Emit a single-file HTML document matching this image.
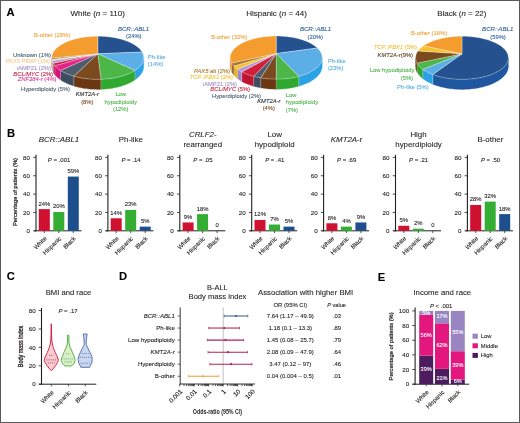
<!DOCTYPE html>
<html><head><meta charset="utf-8"><style>
html,body{margin:0;padding:0;background:#fff;}
svg{display:block;will-change:transform;}
text{font-family:"Liberation Sans", sans-serif;}
</style></head><body>
<svg width="520" height="423" viewBox="0 0 520 423" style='font-family:"Liberation Sans", sans-serif'>
<rect x="0" y="0" width="520" height="423" fill="#ffffff"/>
<polygon points="143.75,57.79 143.72,58.47 143.65,59.14 143.54,59.83 143.38,60.51 143.17,61.20 142.91,61.88 142.60,62.57 142.24,63.25 141.83,63.93 141.38,64.61 140.87,65.29 140.31,65.96 139.70,66.62 139.04,67.28 138.32,67.93 137.56,68.58 136.75,69.21 135.88,69.83 134.97,70.44 134.97,79.86 135.88,79.20 136.75,78.54 137.56,77.86 138.32,77.17 139.04,76.47 139.70,75.76 140.31,75.05 140.87,74.33 141.38,73.60 141.83,72.87 142.24,72.14 142.60,71.41 142.91,70.67 143.17,69.94 143.38,69.20 143.54,68.47 143.65,67.74 143.72,67.01 143.75,66.28" fill="#2ba2e6" stroke="#2ba2e6" stroke-width="0.3"/>
<polygon points="134.97,70.44 134.00,71.05 132.98,71.63 131.92,72.21 130.80,72.77 129.64,73.31 128.44,73.83 127.19,74.34 125.90,74.82 124.56,75.29 123.19,75.73 121.78,76.15 120.33,76.55 118.85,76.93 117.33,77.28 115.79,77.60 114.22,77.90 112.62,78.17 111.00,78.41 109.35,78.63 107.69,78.82 106.02,78.98 104.33,79.11 102.62,79.21 100.92,79.28 100.92,89.34 102.62,89.26 104.33,89.15 106.02,89.01 107.69,88.84 109.35,88.64 111.00,88.41 112.62,88.15 114.22,87.86 115.79,87.54 117.33,87.19 118.85,86.82 120.33,86.41 121.78,85.99 123.19,85.53 124.56,85.06 125.90,84.56 127.19,84.04 128.44,83.49 129.64,82.93 130.80,82.35 131.92,81.75 132.98,81.14 134.00,80.51 134.97,79.86" fill="#30a931" stroke="#30a931" stroke-width="0.3"/>
<polygon points="100.92,79.28 99.24,79.32 97.56,79.33 95.89,79.31 94.21,79.26 92.54,79.19 90.88,79.09 89.23,78.95 87.60,78.80 85.97,78.61 84.37,78.40 82.79,78.16 81.23,77.89 79.69,77.60 78.18,77.28 76.70,76.94 75.25,76.57 73.83,76.19 73.83,86.02 75.25,86.44 76.70,86.83 78.18,87.19 79.69,87.53 81.23,87.85 82.79,88.13 84.37,88.39 85.97,88.62 87.60,88.82 89.23,88.99 90.88,89.13 92.54,89.24 94.21,89.32 95.89,89.37 97.56,89.39 99.24,89.38 100.92,89.34" fill="#6b3712" stroke="#6b3712" stroke-width="0.3"/>
<polygon points="73.83,76.19 72.41,75.76 71.02,75.32 69.68,74.85 68.37,74.36 67.11,73.85 65.90,73.33 64.73,72.78 63.61,72.22 62.53,71.64 61.51,71.05 60.53,70.44 60.53,79.86 61.51,80.51 62.53,81.15 63.61,81.77 64.73,82.37 65.90,82.95 67.11,83.52 68.37,84.06 69.68,84.59 71.02,85.09 72.41,85.57 73.83,86.02" fill="#3e4c60" stroke="#3e4c60" stroke-width="0.3"/>
<polygon points="60.53,70.44 59.56,69.80 58.65,69.13 57.80,68.46 57.00,67.78 56.26,67.09 55.58,66.38 54.95,65.68 54.95,74.74 55.58,75.50 56.26,76.26 57.00,77.00 57.80,77.73 58.65,78.45 59.56,79.16 60.53,79.86" fill="#d9127f" stroke="#d9127f" stroke-width="0.3"/>
<polygon points="54.95,65.68 54.45,65.05 53.99,64.42 53.58,63.79 53.21,63.16 53.21,72.04 53.58,72.72 53.99,73.40 54.45,74.07 54.95,74.74" fill="#be1430" stroke="#be1430" stroke-width="0.3"/>
<polygon points="53.21,63.16 52.88,62.53 52.60,61.89 52.35,61.25 52.15,60.62 52.15,69.32 52.35,70.00 52.60,70.68 52.88,71.36 53.21,72.04" fill="#a085c6" stroke="#a085c6" stroke-width="0.3"/>
<polygon points="52.15,60.62 52.07,60.30 51.99,59.98 51.93,59.67 51.88,59.35 51.88,67.95 51.93,68.29 51.99,68.63 52.07,68.97 52.15,69.32" fill="#eebf70" stroke="#eebf70" stroke-width="0.3"/>
<polygon points="51.88,59.35 51.83,59.03 51.80,58.72 51.77,58.40 51.76,58.09 51.76,66.60 51.77,66.94 51.80,67.28 51.83,67.61 51.88,67.95" fill="#5a5d40" stroke="#5a5d40" stroke-width="0.3"/>
<polygon points="51.76,58.09 51.76,58.01 51.76,57.94 51.75,57.86 51.75,57.79 51.75,66.28 51.75,66.36 51.76,66.44 51.76,66.52 51.76,66.60" fill="#e88c20" stroke="#e88c20" stroke-width="0.3"/>
<line x1="134.97" y1="70.44" x2="134.97" y2="79.86" stroke="#ffffff" stroke-opacity="0.55" stroke-width="0.5"/>
<line x1="100.92" y1="79.28" x2="100.92" y2="89.34" stroke="#ffffff" stroke-opacity="0.55" stroke-width="0.5"/>
<line x1="73.83" y1="76.19" x2="73.83" y2="86.02" stroke="#ffffff" stroke-opacity="0.55" stroke-width="0.5"/>
<line x1="60.53" y1="70.44" x2="60.53" y2="79.86" stroke="#ffffff" stroke-opacity="0.55" stroke-width="0.5"/>
<line x1="54.95" y1="65.68" x2="54.95" y2="74.74" stroke="#ffffff" stroke-opacity="0.55" stroke-width="0.5"/>
<line x1="53.21" y1="63.16" x2="53.21" y2="72.04" stroke="#ffffff" stroke-opacity="0.55" stroke-width="0.5"/>
<line x1="52.15" y1="60.62" x2="52.15" y2="69.32" stroke="#ffffff" stroke-opacity="0.55" stroke-width="0.5"/>
<line x1="51.88" y1="59.35" x2="51.88" y2="67.95" stroke="#ffffff" stroke-opacity="0.55" stroke-width="0.5"/>
<line x1="51.76" y1="58.09" x2="51.76" y2="66.60" stroke="#ffffff" stroke-opacity="0.55" stroke-width="0.5"/>
<polygon points="97.75,53.80 97.75,36.25 98.91,36.26 100.06,36.28 101.22,36.31 102.37,36.36 103.52,36.42 104.66,36.49 105.81,36.58 106.95,36.69 108.08,36.80 109.21,36.93 110.34,37.07 111.46,37.23 112.57,37.40 113.67,37.58 114.77,37.78 115.85,37.99 116.93,38.21 118.00,38.45 119.05,38.70 120.10,38.96 121.13,39.24 122.15,39.53 123.16,39.84 124.15,40.15 125.13,40.48 126.09,40.83 127.04,41.18 127.97,41.55 128.88,41.93 129.77,42.33 130.65,42.73 131.50,43.15 132.33,43.59 133.14,44.03 133.93,44.49 134.69,44.96 135.43,45.44 136.15,45.93 136.83,46.43 137.49,46.95 138.13,47.47 138.73,48.01 139.31,48.56 139.85,49.12 140.36,49.68 140.84,50.26 141.29,50.85 141.70,51.44 142.08,52.05" fill="#25518f" stroke="#ffffff" stroke-opacity="0.5" stroke-width="0.6" stroke-linejoin="round"/>
<polygon points="97.75,53.80 142.08,52.05 142.43,52.67 142.73,53.29 143.00,53.93 143.23,54.57 143.42,55.22 143.56,55.87 143.67,56.53 143.73,57.20 143.75,57.86 143.72,58.54 143.64,59.21 143.53,59.89 143.36,60.57 143.15,61.25 142.89,61.94 142.58,62.62 142.22,63.30 141.81,63.97 141.35,64.65 140.84,65.32 140.28,65.99 139.67,66.65 139.02,67.30 138.31,67.95 137.55,68.59 136.74,69.22 135.88,69.84 134.97,70.44" fill="#5caee6" stroke="#ffffff" stroke-opacity="0.5" stroke-width="0.6" stroke-linejoin="round"/>
<polygon points="97.75,53.80 134.97,70.44 134.00,71.05 132.98,71.63 131.92,72.21 130.80,72.77 129.64,73.31 128.44,73.83 127.19,74.34 125.90,74.82 124.56,75.29 123.19,75.73 121.78,76.15 120.33,76.55 118.85,76.93 117.33,77.28 115.79,77.60 114.22,77.90 112.62,78.17 111.00,78.41 109.35,78.63 107.69,78.82 106.02,78.98 104.33,79.11 102.62,79.21 100.92,79.28" fill="#4cb649" stroke="#ffffff" stroke-opacity="0.5" stroke-width="0.6" stroke-linejoin="round"/>
<polygon points="97.75,53.80 100.92,79.28 99.24,79.32 97.56,79.33 95.89,79.31 94.21,79.26 92.54,79.19 90.88,79.09 89.23,78.95 87.60,78.80 85.97,78.61 84.37,78.40 82.79,78.16 81.23,77.89 79.69,77.60 78.18,77.28 76.70,76.94 75.25,76.57 73.83,76.19" fill="#7b4a1f" stroke="#ffffff" stroke-opacity="0.5" stroke-width="0.6" stroke-linejoin="round"/>
<polygon points="97.75,53.80 73.83,76.19 72.41,75.76 71.02,75.32 69.68,74.85 68.37,74.36 67.11,73.85 65.90,73.33 64.73,72.78 63.61,72.22 62.53,71.64 61.51,71.05 60.53,70.44" fill="#4e5c70" stroke="#ffffff" stroke-opacity="0.5" stroke-width="0.6" stroke-linejoin="round"/>
<polygon points="97.75,53.80 60.53,70.44 59.56,69.80 58.65,69.13 57.80,68.46 57.00,67.78 56.26,67.09 55.58,66.38 54.95,65.68" fill="#e5218b" stroke="#ffffff" stroke-opacity="0.5" stroke-width="0.6" stroke-linejoin="round"/>
<polygon points="97.75,53.80 54.95,65.68 54.29,64.84 53.71,64.00 53.21,63.16" fill="#d21f3c" stroke="#ffffff" stroke-opacity="0.5" stroke-width="0.6" stroke-linejoin="round"/>
<polygon points="97.75,53.80 53.21,63.16 52.78,62.31 52.43,61.47 52.15,60.62" fill="#b69ad6" stroke="#ffffff" stroke-opacity="0.5" stroke-width="0.6" stroke-linejoin="round"/>
<polygon points="97.75,53.80 52.15,60.62 52.04,60.19 51.95,59.77 51.88,59.35" fill="#f6d08c" stroke="#ffffff" stroke-opacity="0.5" stroke-width="0.6" stroke-linejoin="round"/>
<polygon points="97.75,53.80 51.88,59.35 51.82,58.93 51.78,58.51 51.76,58.09" fill="#6b6e4e" stroke="#ffffff" stroke-opacity="0.5" stroke-width="0.6" stroke-linejoin="round"/>
<polygon points="97.75,53.80 51.76,58.09 51.76,57.43 51.81,56.78 51.89,56.13 52.02,55.48 52.19,54.85 52.39,54.21 52.64,53.59 52.92,52.97 53.24,52.36 53.59,51.76 53.99,51.16 54.41,50.58 54.87,50.00 55.36,49.43 55.88,48.87 56.43,48.33 57.01,47.79 57.62,47.26 58.26,46.75 58.93,46.24 59.62,45.75 60.33,45.26 61.07,44.79 61.84,44.33 62.63,43.88 63.44,43.45 64.27,43.02 65.12,42.61 65.99,42.21 66.88,41.82 67.78,41.45 68.71,41.09 69.65,40.74 70.61,40.40 71.58,40.08 72.56,39.77 73.56,39.47 74.58,39.18 75.60,38.91 76.64,38.65 77.69,38.41 78.75,38.17 79.82,37.95 80.89,37.75 81.98,37.56 83.07,37.38 84.17,37.21 85.28,37.06 86.40,36.92 87.52,36.79 88.64,36.68 89.77,36.58 90.90,36.49 92.04,36.42 93.18,36.36 94.32,36.31 95.46,36.28 96.61,36.26 97.75,36.25" fill="#f49c2e" stroke="#ffffff" stroke-opacity="0.5" stroke-width="0.6" stroke-linejoin="round"/>
<polygon points="322.20,57.59 322.17,58.27 322.10,58.95 321.99,59.63 321.83,60.32 321.61,61.00 321.35,61.69 321.04,62.38 320.69,63.06 320.28,63.75 319.82,64.43 319.31,65.10 318.74,65.78 318.13,66.44 317.47,67.10 316.75,67.75 315.98,68.40 315.17,69.03 314.30,69.66 313.38,70.27 312.42,70.87 311.40,71.45 310.34,72.02 309.22,72.58 308.07,73.12 306.86,73.64 305.62,74.15 304.33,74.63 303.00,75.09 301.63,75.54 300.22,75.96 298.78,76.35 298.78,86.21 300.22,85.79 301.63,85.34 303.00,84.86 304.33,84.36 305.62,83.85 306.86,83.31 308.07,82.75 309.22,82.17 310.34,81.57 311.40,80.96 312.42,80.33 313.38,79.68 314.30,79.03 315.17,78.36 315.98,77.68 316.75,76.99 317.47,76.29 318.13,75.58 318.74,74.86 319.31,74.14 319.82,73.42 320.28,72.69 320.69,71.95 321.04,71.22 321.35,70.48 321.61,69.74 321.83,69.01 321.99,68.27 322.10,67.54 322.17,66.81 322.20,66.08" fill="#2ba2e6" stroke="#2ba2e6" stroke-width="0.3"/>
<polygon points="298.78,76.35 297.31,76.72 295.82,77.07 294.29,77.39 292.74,77.69 291.16,77.96 289.55,78.20 287.93,78.42 286.29,78.60 284.63,78.76 282.96,78.89 281.28,79.00 279.59,79.07 277.90,79.11 276.20,79.13 276.20,89.19 277.90,89.18 279.59,89.13 281.28,89.05 282.96,88.94 284.63,88.80 286.29,88.63 287.93,88.43 289.55,88.20 291.16,87.93 292.74,87.65 294.29,87.33 295.82,86.98 297.31,86.61 298.78,86.21" fill="#30a931" stroke="#30a931" stroke-width="0.3"/>
<polygon points="276.20,79.13 274.44,79.11 272.68,79.06 270.93,78.99 269.19,78.88 267.46,78.73 265.74,78.56 264.05,78.36 262.37,78.13 260.71,77.87 260.71,87.84 262.37,88.12 264.05,88.37 265.74,88.59 267.46,88.77 269.19,88.92 270.93,89.04 272.68,89.12 274.44,89.17 276.20,89.19" fill="#6b3712" stroke="#6b3712" stroke-width="0.3"/>
<polygon points="260.71,77.87 258.88,77.54 257.09,77.18 255.33,76.78 253.62,76.35 253.62,86.21 255.33,86.68 257.09,87.10 258.88,87.49 260.71,87.84" fill="#3e4c60" stroke="#3e4c60" stroke-width="0.3"/>
<polygon points="253.62,76.35 252.14,75.94 250.69,75.51 249.28,75.05 247.92,74.57 246.60,74.07 245.32,73.55 244.10,73.01 242.91,72.45 241.78,71.88 241.78,81.41 242.91,82.03 244.10,82.63 245.32,83.21 246.60,83.77 247.92,84.31 249.28,84.82 250.69,85.31 252.14,85.78 253.62,86.21" fill="#be1430" stroke="#be1430" stroke-width="0.3"/>
<polygon points="241.78,71.88 240.57,71.21 239.42,70.52 238.34,69.82 237.33,69.10 237.33,78.43 238.34,79.20 239.42,79.96 240.57,80.70 241.78,81.41" fill="#a085c6" stroke="#a085c6" stroke-width="0.3"/>
<polygon points="237.33,69.10 236.38,68.37 235.50,67.62 234.69,66.86 233.94,66.10 233.94,75.21 234.69,76.03 235.50,76.84 236.38,77.65 237.33,78.43" fill="#eab21c" stroke="#eab21c" stroke-width="0.3"/>
<polygon points="233.94,66.10 233.27,65.32 232.67,64.54 232.13,63.75 231.66,62.96 231.66,71.84 232.13,72.69 232.67,73.54 233.27,74.38 233.94,75.21" fill="#956424" stroke="#956424" stroke-width="0.3"/>
<polygon points="231.66,62.96 231.31,62.29 231.01,61.61 230.76,60.94 230.56,60.27 230.40,59.59 230.29,58.92 230.23,58.25 230.20,57.59 230.20,66.08 230.23,66.79 230.29,67.51 230.40,68.23 230.56,68.95 230.76,69.68 231.01,70.40 231.31,71.12 231.66,71.84" fill="#e88c20" stroke="#e88c20" stroke-width="0.3"/>
<line x1="298.78" y1="76.35" x2="298.78" y2="86.21" stroke="#ffffff" stroke-opacity="0.55" stroke-width="0.5"/>
<line x1="276.20" y1="79.13" x2="276.20" y2="89.19" stroke="#ffffff" stroke-opacity="0.55" stroke-width="0.5"/>
<line x1="260.71" y1="77.87" x2="260.71" y2="87.84" stroke="#ffffff" stroke-opacity="0.55" stroke-width="0.5"/>
<line x1="253.62" y1="76.35" x2="253.62" y2="86.21" stroke="#ffffff" stroke-opacity="0.55" stroke-width="0.5"/>
<line x1="241.78" y1="71.88" x2="241.78" y2="81.41" stroke="#ffffff" stroke-opacity="0.55" stroke-width="0.5"/>
<line x1="237.33" y1="69.10" x2="237.33" y2="78.43" stroke="#ffffff" stroke-opacity="0.55" stroke-width="0.5"/>
<line x1="233.94" y1="66.10" x2="233.94" y2="75.21" stroke="#ffffff" stroke-opacity="0.55" stroke-width="0.5"/>
<line x1="231.66" y1="62.96" x2="231.66" y2="71.84" stroke="#ffffff" stroke-opacity="0.55" stroke-width="0.5"/>
<polygon points="276.20,53.60 276.20,36.05 277.37,36.06 278.53,36.08 279.70,36.11 280.86,36.16 282.02,36.22 283.18,36.30 284.34,36.39 285.49,36.49 286.63,36.61 287.77,36.74 288.91,36.89 290.04,37.05 291.16,37.22 292.27,37.41 293.37,37.61 294.47,37.82 295.56,38.05 296.63,38.29 297.70,38.55 298.75,38.82 299.79,39.10 300.82,39.39 301.83,39.70 302.83,40.03 303.81,40.36 304.78,40.71 305.73,41.08 306.67,41.45 307.58,41.84 308.48,42.24 309.35,42.66 310.21,43.09 311.04,43.53 311.85,43.98 312.64,44.44 313.40,44.92 314.14,45.41 314.85,45.91 315.53,46.42 316.19,46.95 316.82,47.48 317.42,48.03" fill="#25518f" stroke="#ffffff" stroke-opacity="0.5" stroke-width="0.6" stroke-linejoin="round"/>
<polygon points="276.20,53.60 317.42,48.03 317.98,48.58 318.52,49.15 319.02,49.72 319.48,50.30 319.92,50.89 320.32,51.50 320.68,52.10 321.01,52.72 321.30,53.35 321.55,53.98 321.76,54.62 321.93,55.27 322.06,55.92 322.14,56.57 322.19,57.24 322.19,57.90 322.15,58.57 322.06,59.24 321.93,59.92 321.75,60.59 321.52,61.27 321.24,61.95 320.92,62.62 320.55,63.30 320.13,63.97 319.66,64.64 319.14,65.30 318.57,65.97 317.96,66.62 317.29,67.27 316.57,67.91 315.81,68.54 314.99,69.16 314.13,69.77 313.21,70.38 312.25,70.96 311.24,71.54 310.19,72.10 309.09,72.65 307.94,73.18 306.75,73.69 305.52,74.18 304.25,74.66 302.94,75.11 301.59,75.55 300.20,75.96 298.78,76.35" fill="#5caee6" stroke="#ffffff" stroke-opacity="0.5" stroke-width="0.6" stroke-linejoin="round"/>
<polygon points="276.20,53.60 298.78,76.35 297.31,76.72 295.82,77.07 294.29,77.39 292.74,77.69 291.16,77.96 289.55,78.20 287.93,78.42 286.29,78.60 284.63,78.76 282.96,78.89 281.28,79.00 279.59,79.07 277.90,79.11 276.20,79.13" fill="#4cb649" stroke="#ffffff" stroke-opacity="0.5" stroke-width="0.6" stroke-linejoin="round"/>
<polygon points="276.20,53.60 276.20,79.13 274.44,79.11 272.68,79.06 270.93,78.99 269.19,78.88 267.46,78.73 265.74,78.56 264.05,78.36 262.37,78.13 260.71,77.87" fill="#7b4a1f" stroke="#ffffff" stroke-opacity="0.5" stroke-width="0.6" stroke-linejoin="round"/>
<polygon points="276.20,53.60 260.71,77.87 258.88,77.54 257.09,77.18 255.33,76.78 253.62,76.35" fill="#4e5c70" stroke="#ffffff" stroke-opacity="0.5" stroke-width="0.6" stroke-linejoin="round"/>
<polygon points="276.20,53.60 253.62,76.35 252.14,75.94 250.69,75.51 249.28,75.05 247.92,74.57 246.60,74.07 245.32,73.55 244.10,73.01 242.91,72.45 241.78,71.88" fill="#d21f3c" stroke="#ffffff" stroke-opacity="0.5" stroke-width="0.6" stroke-linejoin="round"/>
<polygon points="276.20,53.60 241.78,71.88 240.57,71.21 239.42,70.52 238.34,69.82 237.33,69.10" fill="#b69ad6" stroke="#ffffff" stroke-opacity="0.5" stroke-width="0.6" stroke-linejoin="round"/>
<polygon points="276.20,53.60 237.33,69.10 236.38,68.37 235.50,67.62 234.69,66.86 233.94,66.10" fill="#f5c22e" stroke="#ffffff" stroke-opacity="0.5" stroke-width="0.6" stroke-linejoin="round"/>
<polygon points="276.20,53.60 233.94,66.10 233.27,65.32 232.67,64.54 232.13,63.75 231.66,62.96" fill="#a9772e" stroke="#ffffff" stroke-opacity="0.5" stroke-width="0.6" stroke-linejoin="round"/>
<polygon points="276.20,53.60 231.66,62.96 231.31,62.29 231.01,61.61 230.76,60.94 230.56,60.26 230.40,59.59 230.29,58.92 230.23,58.25 230.20,57.58 230.23,56.92 230.29,56.27 230.40,55.61 230.55,54.97 230.74,54.32 230.96,53.69 231.23,53.06 231.54,52.44 231.88,51.83 232.26,51.23 232.67,50.63 233.12,50.05 233.60,49.47 234.11,48.90 234.66,48.34 235.23,47.80 235.84,47.26 236.47,46.74 237.13,46.22 237.82,45.72 238.53,45.23 239.27,44.75 240.04,44.28 240.83,43.82 241.64,43.38 242.47,42.95 243.32,42.53 244.19,42.12 245.09,41.73 246.00,41.34 246.93,40.98 247.87,40.62 248.83,40.28 249.81,39.95 250.80,39.63 251.81,39.33 252.83,39.04 253.86,38.76 254.91,38.50 255.96,38.25 257.03,38.01 258.11,37.79 259.19,37.58 260.29,37.38 261.39,37.20 262.50,37.03 263.62,36.87 264.74,36.73 265.87,36.60 267.01,36.48 268.15,36.38 269.29,36.29 270.44,36.22 271.59,36.16 272.74,36.11 273.89,36.08 275.04,36.06 276.20,36.05" fill="#f49c2e" stroke="#ffffff" stroke-opacity="0.5" stroke-width="0.6" stroke-linejoin="round"/>
<polygon points="508.40,57.79 508.38,58.45 508.31,59.11 508.20,59.78 508.05,60.45 507.84,61.12 507.59,61.79 507.30,62.46 506.95,63.13 506.56,63.80 506.12,64.46 505.63,65.12 505.09,65.78 504.50,66.43 503.87,67.08 503.18,67.72 502.45,68.35 501.66,68.97 500.83,69.58 499.95,70.18 499.02,70.78 498.04,71.35 497.02,71.92 495.95,72.47 494.84,73.01 493.68,73.52 492.48,74.03 491.24,74.51 489.96,74.98 488.64,75.42 487.28,75.85 485.89,76.25 484.46,76.64 483.00,77.00 481.51,77.33 479.99,77.64 478.44,77.93 476.87,78.19 475.28,78.43 473.67,78.64 472.04,78.82 470.39,78.97 468.73,79.10 467.07,79.20 465.39,79.27 463.71,79.31 462.03,79.33 460.34,79.31 458.66,79.27 456.99,79.20 455.32,79.10 453.66,78.98 452.01,78.82 450.38,78.64 448.77,78.43 447.18,78.20 445.61,77.94 444.06,77.65 442.54,77.34 441.05,77.01 439.59,76.65 438.16,76.27 436.76,75.86 435.40,75.44 434.08,74.99 432.80,74.53 432.80,84.24 434.08,84.74 435.40,85.22 436.76,85.67 438.16,86.11 439.59,86.52 441.05,86.90 442.54,87.26 444.06,87.59 445.61,87.90 447.18,88.18 448.77,88.43 450.38,88.66 452.01,88.85 453.66,89.01 455.32,89.15 456.99,89.26 458.66,89.33 460.34,89.38 462.03,89.39 463.71,89.38 465.39,89.33 467.07,89.25 468.73,89.15 470.39,89.01 472.04,88.84 473.67,88.65 475.28,88.42 476.87,88.17 478.44,87.89 479.99,87.58 481.51,87.25 483.00,86.89 484.46,86.50 485.89,86.09 487.28,85.66 488.64,85.20 489.96,84.72 491.24,84.22 492.48,83.70 493.68,83.16 494.84,82.61 495.95,82.03 497.02,81.44 498.04,80.84 499.02,80.21 499.95,79.58 500.83,78.93 501.66,78.28 502.45,77.61 503.18,76.93 503.87,76.25 504.50,75.55 505.09,74.85 505.63,74.15 506.12,73.44 506.56,72.73 506.95,72.01 507.30,71.29 507.59,70.57 507.84,69.85 508.05,69.14 508.20,68.42 508.31,67.70 508.38,66.99 508.40,66.28" fill="#1f56a0" stroke="#1f56a0" stroke-width="0.3"/>
<polygon points="432.80,74.53 431.49,74.02 430.22,73.49 429.01,72.94 427.84,72.37 426.73,71.78 425.66,71.18 424.65,70.57 423.69,69.94 422.78,69.30 422.78,78.63 423.69,79.32 424.65,79.99 425.66,80.65 426.73,81.30 427.84,81.92 429.01,82.53 430.22,83.12 431.49,83.69 432.80,84.24" fill="#2ba2e6" stroke="#2ba2e6" stroke-width="0.3"/>
<polygon points="422.78,69.30 421.93,68.65 421.13,67.99 420.39,67.32 419.70,66.64 419.06,65.95 418.48,65.26 417.95,64.56 417.48,63.86 417.06,63.16 417.06,72.04 417.48,72.80 417.95,73.55 418.48,74.30 419.06,75.04 419.70,75.78 420.39,76.50 421.13,77.22 421.93,77.93 422.78,78.63" fill="#30a931" stroke="#30a931" stroke-width="0.3"/>
<polygon points="417.06,63.16 416.72,62.49 416.41,61.81 416.16,61.14 415.96,60.47 415.80,59.79 415.69,59.12 415.62,58.45 415.60,57.79 415.60,66.28 415.62,66.99 415.69,67.71 415.80,68.43 415.96,69.15 416.16,69.88 416.41,70.60 416.72,71.32 417.06,72.04" fill="#6b3712" stroke="#6b3712" stroke-width="0.3"/>
<line x1="432.80" y1="74.53" x2="432.80" y2="84.24" stroke="#ffffff" stroke-opacity="0.55" stroke-width="0.5"/>
<line x1="422.78" y1="69.30" x2="422.78" y2="78.63" stroke="#ffffff" stroke-opacity="0.55" stroke-width="0.5"/>
<line x1="417.06" y1="63.16" x2="417.06" y2="72.04" stroke="#ffffff" stroke-opacity="0.55" stroke-width="0.5"/>
<polygon points="462.00,53.80 462.00,36.25 463.16,36.26 464.32,36.28 465.48,36.31 466.64,36.36 467.80,36.42 468.95,36.49 470.10,36.58 471.24,36.68 472.38,36.80 473.52,36.92 474.65,37.07 475.77,37.22 476.89,37.39 478.00,37.57 479.10,37.77 480.19,37.97 481.28,38.20 482.35,38.43 483.41,38.68 484.46,38.94 485.50,39.22 486.53,39.50 487.54,39.81 488.54,40.12 489.52,40.45 490.49,40.79 491.44,41.14 492.38,41.51 493.30,41.89 494.20,42.28 495.08,42.68 495.94,43.10 496.77,43.53 497.59,43.97 498.39,44.42 499.16,44.89 499.90,45.36 500.63,45.85 501.32,46.35 501.99,46.86 502.63,47.39 503.24,47.92 503.83,48.46 504.38,49.02 504.90,49.58 505.39,50.15 505.84,50.73 506.26,51.33 506.65,51.93 507.00,52.54 507.31,53.15 507.59,53.78 507.83,54.41 508.02,55.04 508.18,55.69 508.30,56.34 508.37,56.99 508.40,57.65 508.39,58.31 508.33,58.98 508.23,59.65 508.08,60.32 507.89,60.99 507.65,61.66 507.36,62.33 507.02,63.01 506.64,63.68 506.20,64.34 505.72,65.01 505.19,65.67 504.61,66.32 503.98,66.97 503.29,67.61 502.57,68.25 501.79,68.87 500.96,69.49 500.08,70.10 499.16,70.69 498.19,71.27 497.17,71.84 496.10,72.40 494.99,72.94 493.84,73.46 492.64,73.97 491.40,74.45 490.12,74.92 488.80,75.37 487.44,75.80 486.04,76.21 484.61,76.60 483.15,76.96 481.66,77.30 480.14,77.61 478.59,77.90 477.02,78.17 475.42,78.41 473.80,78.62 472.17,78.80 470.52,78.96 468.86,79.09 467.19,79.19 465.50,79.27 463.82,79.31 462.13,79.33 460.44,79.32 458.75,79.27 457.07,79.21 455.40,79.11 453.73,78.98 452.08,78.83 450.45,78.65 448.83,78.44 447.23,78.21 445.65,77.95 444.10,77.66 442.57,77.35 441.08,77.01 439.61,76.65 438.17,76.27 436.77,75.87 435.41,75.44 434.08,74.99 432.80,74.53" fill="#25518f" stroke="#ffffff" stroke-opacity="0.5" stroke-width="0.6" stroke-linejoin="round"/>
<polygon points="462.00,53.80 432.80,74.53 431.49,74.02 430.22,73.49 429.01,72.94 427.84,72.37 426.73,71.78 425.66,71.18 424.65,70.57 423.69,69.94 422.78,69.30" fill="#5caee6" stroke="#ffffff" stroke-opacity="0.5" stroke-width="0.6" stroke-linejoin="round"/>
<polygon points="462.00,53.80 422.78,69.30 421.93,68.65 421.13,67.99 420.39,67.32 419.70,66.64 419.06,65.95 418.48,65.26 417.95,64.56 417.48,63.86 417.06,63.16" fill="#4cb649" stroke="#ffffff" stroke-opacity="0.5" stroke-width="0.6" stroke-linejoin="round"/>
<polygon points="462.00,53.80 417.06,63.16 416.72,62.49 416.42,61.82 416.17,61.15 415.96,60.48 415.80,59.82 415.69,59.15 415.62,58.49 415.60,57.82 415.62,57.17 415.68,56.51 415.78,55.87 415.93,55.22 416.11,54.59 416.34,53.96 416.60,53.33 416.90,52.72 417.24,52.11 417.61,51.51 418.02,50.92" fill="#7b4a1f" stroke="#ffffff" stroke-opacity="0.5" stroke-width="0.6" stroke-linejoin="round"/>
<polygon points="462.00,53.80 418.02,50.92 418.49,50.30 419.00,49.70 419.54,49.10 420.12,48.52 420.73,47.95 421.37,47.39 422.04,46.84 422.75,46.30 423.48,45.78" fill="#f5c22e" stroke="#ffffff" stroke-opacity="0.5" stroke-width="0.6" stroke-linejoin="round"/>
<polygon points="462.00,53.80 423.48,45.78 424.21,45.29 424.95,44.82 425.73,44.36 426.52,43.91 427.34,43.47 428.17,43.04 429.03,42.63 429.91,42.23 430.81,41.84 431.73,41.47 432.66,41.10 433.61,40.75 434.58,40.41 435.56,40.09 436.55,39.78 437.56,39.48 438.59,39.19 439.62,38.92 440.67,38.66 441.73,38.41 442.80,38.18 443.88,37.96 444.97,37.75 446.06,37.56 447.17,37.38 448.28,37.21 449.40,37.06 450.53,36.92 451.66,36.79 452.79,36.68 453.94,36.58 455.08,36.49 456.23,36.42 457.38,36.36 458.53,36.31 459.69,36.28 460.84,36.26 462.00,36.25" fill="#f49c2e" stroke="#ffffff" stroke-opacity="0.5" stroke-width="0.6" stroke-linejoin="round"/>
<text x="70.50" y="15.80" font-size="8" fill="#231f20" stroke="#231f20" stroke-width="0.1" text-anchor="start" >White (<tspan font-style="italic">n</tspan> = 110)</text>
<text x="246.20" y="15.60" font-size="8" fill="#231f20" stroke="#231f20" stroke-width="0.1" text-anchor="start" >Hispanic (<tspan font-style="italic">n</tspan> = 44)</text>
<text x="437.20" y="15.60" font-size="7.95" fill="#231f20" stroke="#231f20" stroke-width="0.1" text-anchor="start" >Black (<tspan font-style="italic">n</tspan> = 22)</text>
<text x="133.50" y="31.20" font-size="6.1" fill="#2f5e9e" stroke="#2f5e9e" stroke-width="0.1" text-anchor="middle" font-style="italic" >BCR::ABL1</text>
<text x="133.80" y="38.00" font-size="5.8" fill="#2f5e9e" stroke="#2f5e9e" stroke-width="0.1" text-anchor="middle" >(24%)</text>
<text x="34.00" y="37.10" font-size="5.8" fill="#f2a33a" stroke="#f2a33a" stroke-width="0.1" text-anchor="start" >B-other (28%)</text>
<text x="147.80" y="58.80" font-size="5.8" fill="#5aaee4" stroke="#5aaee4" stroke-width="0.1" text-anchor="start" >Ph-like</text>
<text x="147.80" y="66.00" font-size="5.8" fill="#5aaee4" stroke="#5aaee4" stroke-width="0.1" text-anchor="start" >(14%)</text>
<text x="51.00" y="57.10" font-size="5.8" fill="#3f5b6d" stroke="#3f5b6d" stroke-width="0.1" text-anchor="end" >Unknown (1%)</text>
<text x="50.00" y="63.20" font-size="5.8" fill="#f7c98a" stroke="#f7c98a" stroke-width="0.1" text-anchor="end" >PAX5 P80R (1%)</text>
<text x="51.00" y="69.60" font-size="5.8" fill="#a58cc8" stroke="#a58cc8" stroke-width="0.1" text-anchor="end" >iAMP21 (2%)</text>
<text x="53.00" y="75.60" font-size="5.8" fill="#c81d3a" stroke="#c81d3a" stroke-width="0.1" text-anchor="end" ><tspan font-style="italic">BCL/MYC</tspan> (2%)</text>
<text x="56.50" y="81.40" font-size="5.8" fill="#e0358f" stroke="#e0358f" stroke-width="0.1" text-anchor="end" ><tspan font-style="italic">ZNF384-r</tspan> (4%)</text>
<text x="70.00" y="91.30" font-size="5.8" fill="#4e5c70" stroke="#4e5c70" stroke-width="0.1" text-anchor="end" >Hyperdiploidy (5%)</text>
<text x="87.30" y="95.70" font-size="5.8" fill="#2b2b2b" stroke="#2b2b2b" stroke-width="0.1" text-anchor="middle" font-style="italic" >KMT2A-r</text>
<text x="87.30" y="103.50" font-size="5.8" fill="#7d4a1f" stroke="#7d4a1f" stroke-width="0.1" text-anchor="middle" >(8%)</text>
<text x="120.70" y="96.00" font-size="5.8" fill="#4db648" stroke="#4db648" stroke-width="0.1" text-anchor="middle" >Low</text>
<text x="120.70" y="103.80" font-size="5.8" fill="#4db648" stroke="#4db648" stroke-width="0.1" text-anchor="middle" >hypodiploidy</text>
<text x="120.70" y="111.00" font-size="5.8" fill="#4db648" stroke="#4db648" stroke-width="0.1" text-anchor="middle" >(12%)</text>
<text x="315.50" y="31.20" font-size="6.1" fill="#2f5e9e" stroke="#2f5e9e" stroke-width="0.1" text-anchor="middle" font-style="italic" >BCR::ABL1</text>
<text x="315.30" y="38.70" font-size="5.8" fill="#2f5e9e" stroke="#2f5e9e" stroke-width="0.1" text-anchor="middle" >(20%)</text>
<text x="211.20" y="38.70" font-size="5.8" fill="#f2a33a" stroke="#f2a33a" stroke-width="0.1" text-anchor="start" >B-other (32%)</text>
<text x="327.90" y="62.50" font-size="5.8" fill="#5aaee4" stroke="#5aaee4" stroke-width="0.1" text-anchor="start" >Ph-like</text>
<text x="327.90" y="70.20" font-size="5.8" fill="#5aaee4" stroke="#5aaee4" stroke-width="0.1" text-anchor="start" >(23%)</text>
<text x="230.00" y="72.70" font-size="5.8" fill="#a9772e" stroke="#a9772e" stroke-width="0.1" text-anchor="end" ><tspan font-style="italic">PAX5</tspan> alt (2%)</text>
<text x="233.00" y="78.80" font-size="5.8" fill="#f5c22e" stroke="#f5c22e" stroke-width="0.1" text-anchor="end" ><tspan font-style="italic">TCF::PBX1</tspan> (2%)</text>
<text x="237.00" y="85.50" font-size="5.8" fill="#a58cc8" stroke="#a58cc8" stroke-width="0.1" text-anchor="end" >iAMP21 (2%)</text>
<text x="250.00" y="91.20" font-size="5.8" fill="#c81d3a" stroke="#c81d3a" stroke-width="0.1" text-anchor="end" ><tspan font-style="italic">BCL/MYC</tspan> (5%)</text>
<text x="261.00" y="97.80" font-size="5.8" fill="#4e5c70" stroke="#4e5c70" stroke-width="0.1" text-anchor="end" >Hyperdiploidy (2%)</text>
<text x="268.80" y="102.70" font-size="5.8" fill="#2b2b2b" stroke="#2b2b2b" stroke-width="0.1" text-anchor="middle" font-style="italic" >KMT2A-r</text>
<text x="268.80" y="110.20" font-size="5.8" fill="#7d4a1f" stroke="#7d4a1f" stroke-width="0.1" text-anchor="middle" >(4%)</text>
<text x="285.80" y="97.00" font-size="5.8" fill="#4db648" stroke="#4db648" stroke-width="0.1" text-anchor="start" >Low</text>
<text x="285.80" y="104.30" font-size="5.8" fill="#4db648" stroke="#4db648" stroke-width="0.1" text-anchor="start" >hypodiploidy</text>
<text x="285.80" y="111.70" font-size="5.8" fill="#4db648" stroke="#4db648" stroke-width="0.1" text-anchor="start" >(7%)</text>
<text x="497.70" y="31.00" font-size="6.1" fill="#2f5e9e" stroke="#2f5e9e" stroke-width="0.1" text-anchor="middle" font-style="italic" >BCR::ABL1</text>
<text x="498.00" y="38.50" font-size="5.8" fill="#2f5e9e" stroke="#2f5e9e" stroke-width="0.1" text-anchor="middle" >(59%)</text>
<text x="411.00" y="35.00" font-size="5.8" fill="#f2a33a" stroke="#f2a33a" stroke-width="0.1" text-anchor="start" >B-other (18%)</text>
<text x="417.00" y="49.00" font-size="5.8" fill="#f5c22e" stroke="#f5c22e" stroke-width="0.1" text-anchor="end" ><tspan font-style="italic">TCF::PBX1</tspan> (5%)</text>
<text x="413.00" y="56.80" font-size="5.8" fill="#5a3a1a" stroke="#5a3a1a" stroke-width="0.1" text-anchor="end" ><tspan font-style="italic">KMT2A-r</tspan>(9%)</text>
<text x="414.30" y="72.20" font-size="5.8" fill="#4db648" stroke="#4db648" stroke-width="0.1" text-anchor="end" >Low hypodiploidy</text>
<text x="413.00" y="79.60" font-size="5.8" fill="#4db648" stroke="#4db648" stroke-width="0.1" text-anchor="end" >(5%)</text>
<text x="428.70" y="88.70" font-size="5.8" fill="#5aaee4" stroke="#5aaee4" stroke-width="0.1" text-anchor="end" >Ph-like (5%)</text>
<text x="6.50" y="15.80" font-size="11.2" fill="#000" stroke="#000" stroke-width="0.1" text-anchor="start" font-weight="bold" >A</text>
<text x="7.00" y="137.10" font-size="11.2" fill="#000" stroke="#000" stroke-width="0.1" text-anchor="start" font-weight="bold" >B</text>
<text x="6.80" y="280.20" font-size="11.2" fill="#000" stroke="#000" stroke-width="0.1" text-anchor="start" font-weight="bold" >C</text>
<text x="119.00" y="280.20" font-size="11.2" fill="#000" stroke="#000" stroke-width="0.1" text-anchor="start" font-weight="bold" >D</text>
<text x="377.80" y="281.00" font-size="11.2" fill="#000" stroke="#000" stroke-width="0.1" text-anchor="start" font-weight="bold" >E</text>
<line x1="36.0" y1="154.8" x2="36.0" y2="231.3" stroke="#231f20" stroke-width="1.1"/>
<line x1="34.0" y1="230.8" x2="81.5" y2="230.8" stroke="#231f20" stroke-width="1.0"/>
<line x1="33.2" y1="230.80" x2="36.0" y2="230.80" stroke="#231f20" stroke-width="0.8"/>
<text x="30.00" y="233.00" font-size="6.2" fill="#231f20" stroke="#231f20" stroke-width="0.1" text-anchor="end" >0</text>
<line x1="33.2" y1="212.45" x2="36.0" y2="212.45" stroke="#231f20" stroke-width="0.8"/>
<text x="30.00" y="214.65" font-size="6.2" fill="#231f20" stroke="#231f20" stroke-width="0.1" text-anchor="end" >20</text>
<line x1="33.2" y1="194.10" x2="36.0" y2="194.10" stroke="#231f20" stroke-width="0.8"/>
<text x="30.00" y="196.30" font-size="6.2" fill="#231f20" stroke="#231f20" stroke-width="0.1" text-anchor="end" >40</text>
<line x1="33.2" y1="175.75" x2="36.0" y2="175.75" stroke="#231f20" stroke-width="0.8"/>
<text x="30.00" y="177.95" font-size="6.2" fill="#231f20" stroke="#231f20" stroke-width="0.1" text-anchor="end" >60</text>
<line x1="33.2" y1="157.40" x2="36.0" y2="157.40" stroke="#231f20" stroke-width="0.8"/>
<text x="30.00" y="159.60" font-size="6.2" fill="#231f20" stroke="#231f20" stroke-width="0.1" text-anchor="end" >80</text>
<rect x="38.80" y="209.11" width="11" height="21.69" fill="#cf1030"/>
<text x="44.30" y="205.51" font-size="5.9" fill="#231f20" stroke="#231f20" stroke-width="0.1" text-anchor="middle" >24%</text>
<line x1="44.30" y1="230.8" x2="44.30" y2="233.10000000000002" stroke="#231f20" stroke-width="0.75"/>
<text transform="translate(47.10,239.00) rotate(-45)" font-size="6.0" fill="#231f20" stroke="#231f20" stroke-width="0.1" text-anchor="end" >White</text>
<rect x="53.30" y="212.03" width="11" height="18.77" fill="#33ae33"/>
<text x="58.80" y="208.43" font-size="5.9" fill="#231f20" stroke="#231f20" stroke-width="0.1" text-anchor="middle" >20%</text>
<line x1="58.80" y1="230.8" x2="58.80" y2="233.10000000000002" stroke="#231f20" stroke-width="0.75"/>
<text transform="translate(61.60,239.00) rotate(-45)" font-size="6.0" fill="#231f20" stroke="#231f20" stroke-width="0.1" text-anchor="end" >Hispanic</text>
<rect x="67.80" y="176.58" width="11" height="54.22" fill="#1d4f8c"/>
<text x="73.30" y="172.98" font-size="5.9" fill="#231f20" stroke="#231f20" stroke-width="0.1" text-anchor="middle" >59%</text>
<line x1="73.30" y1="230.8" x2="73.30" y2="233.10000000000002" stroke="#231f20" stroke-width="0.75"/>
<text transform="translate(76.10,239.00) rotate(-45)" font-size="6.0" fill="#231f20" stroke="#231f20" stroke-width="0.1" text-anchor="end" >Black</text>
<text x="59.10" y="161.90" font-size="6.0" fill="#231f20" stroke="#231f20" stroke-width="0.1" text-anchor="middle" ><tspan font-style="italic">P</tspan> = .001</text>
<text x="59.00" y="142.30" font-size="7.9" fill="#231f20" stroke="#231f20" stroke-width="0.1" text-anchor="middle" ><tspan font-style="italic">BCR::ABL1</tspan></text>
<line x1="107.9" y1="154.8" x2="107.9" y2="231.3" stroke="#231f20" stroke-width="1.1"/>
<line x1="105.9" y1="230.8" x2="153.4" y2="230.8" stroke="#231f20" stroke-width="1.0"/>
<line x1="105.10000000000001" y1="230.80" x2="107.9" y2="230.80" stroke="#231f20" stroke-width="0.8"/>
<text x="101.90" y="233.00" font-size="6.2" fill="#231f20" stroke="#231f20" stroke-width="0.1" text-anchor="end" >0</text>
<line x1="105.10000000000001" y1="212.45" x2="107.9" y2="212.45" stroke="#231f20" stroke-width="0.8"/>
<text x="101.90" y="214.65" font-size="6.2" fill="#231f20" stroke="#231f20" stroke-width="0.1" text-anchor="end" >20</text>
<line x1="105.10000000000001" y1="194.10" x2="107.9" y2="194.10" stroke="#231f20" stroke-width="0.8"/>
<text x="101.90" y="196.30" font-size="6.2" fill="#231f20" stroke="#231f20" stroke-width="0.1" text-anchor="end" >40</text>
<line x1="105.10000000000001" y1="175.75" x2="107.9" y2="175.75" stroke="#231f20" stroke-width="0.8"/>
<text x="101.90" y="177.95" font-size="6.2" fill="#231f20" stroke="#231f20" stroke-width="0.1" text-anchor="end" >60</text>
<line x1="105.10000000000001" y1="157.40" x2="107.9" y2="157.40" stroke="#231f20" stroke-width="0.8"/>
<text x="101.90" y="159.60" font-size="6.2" fill="#231f20" stroke="#231f20" stroke-width="0.1" text-anchor="end" >80</text>
<rect x="110.70" y="218.29" width="11" height="12.51" fill="#cf1030"/>
<text x="116.20" y="214.69" font-size="5.9" fill="#231f20" stroke="#231f20" stroke-width="0.1" text-anchor="middle" >14%</text>
<line x1="116.20" y1="230.8" x2="116.20" y2="233.10000000000002" stroke="#231f20" stroke-width="0.75"/>
<text transform="translate(119.00,239.00) rotate(-45)" font-size="6.0" fill="#231f20" stroke="#231f20" stroke-width="0.1" text-anchor="end" >White</text>
<rect x="125.20" y="209.95" width="11" height="20.85" fill="#33ae33"/>
<text x="130.70" y="206.35" font-size="5.9" fill="#231f20" stroke="#231f20" stroke-width="0.1" text-anchor="middle" >23%</text>
<line x1="130.70" y1="230.8" x2="130.70" y2="233.10000000000002" stroke="#231f20" stroke-width="0.75"/>
<text transform="translate(133.50,239.00) rotate(-45)" font-size="6.0" fill="#231f20" stroke="#231f20" stroke-width="0.1" text-anchor="end" >Hispanic</text>
<rect x="139.70" y="226.63" width="11" height="4.17" fill="#1d4f8c"/>
<text x="145.20" y="223.03" font-size="5.9" fill="#231f20" stroke="#231f20" stroke-width="0.1" text-anchor="middle" >5%</text>
<line x1="145.20" y1="230.8" x2="145.20" y2="233.10000000000002" stroke="#231f20" stroke-width="0.75"/>
<text transform="translate(148.00,239.00) rotate(-45)" font-size="6.0" fill="#231f20" stroke="#231f20" stroke-width="0.1" text-anchor="end" >Black</text>
<text x="131.00" y="161.90" font-size="6.0" fill="#231f20" stroke="#231f20" stroke-width="0.1" text-anchor="middle" ><tspan font-style="italic">P</tspan> = .14</text>
<text x="130.90" y="142.30" font-size="7.9" fill="#231f20" stroke="#231f20" stroke-width="0.1" text-anchor="middle" >Ph-like</text>
<line x1="179.8" y1="154.8" x2="179.8" y2="231.3" stroke="#231f20" stroke-width="1.1"/>
<line x1="177.8" y1="230.8" x2="225.3" y2="230.8" stroke="#231f20" stroke-width="1.0"/>
<line x1="177.0" y1="230.80" x2="179.8" y2="230.80" stroke="#231f20" stroke-width="0.8"/>
<text x="173.80" y="233.00" font-size="6.2" fill="#231f20" stroke="#231f20" stroke-width="0.1" text-anchor="end" >0</text>
<line x1="177.0" y1="212.45" x2="179.8" y2="212.45" stroke="#231f20" stroke-width="0.8"/>
<text x="173.80" y="214.65" font-size="6.2" fill="#231f20" stroke="#231f20" stroke-width="0.1" text-anchor="end" >20</text>
<line x1="177.0" y1="194.10" x2="179.8" y2="194.10" stroke="#231f20" stroke-width="0.8"/>
<text x="173.80" y="196.30" font-size="6.2" fill="#231f20" stroke="#231f20" stroke-width="0.1" text-anchor="end" >40</text>
<line x1="177.0" y1="175.75" x2="179.8" y2="175.75" stroke="#231f20" stroke-width="0.8"/>
<text x="173.80" y="177.95" font-size="6.2" fill="#231f20" stroke="#231f20" stroke-width="0.1" text-anchor="end" >60</text>
<line x1="177.0" y1="157.40" x2="179.8" y2="157.40" stroke="#231f20" stroke-width="0.8"/>
<text x="173.80" y="159.60" font-size="6.2" fill="#231f20" stroke="#231f20" stroke-width="0.1" text-anchor="end" >80</text>
<rect x="182.60" y="222.46" width="11" height="8.34" fill="#cf1030"/>
<text x="188.10" y="218.86" font-size="5.9" fill="#231f20" stroke="#231f20" stroke-width="0.1" text-anchor="middle" >9%</text>
<line x1="188.10" y1="230.8" x2="188.10" y2="233.10000000000002" stroke="#231f20" stroke-width="0.75"/>
<text transform="translate(190.90,239.00) rotate(-45)" font-size="6.0" fill="#231f20" stroke="#231f20" stroke-width="0.1" text-anchor="end" >White</text>
<rect x="197.10" y="214.12" width="11" height="16.68" fill="#33ae33"/>
<text x="202.60" y="210.52" font-size="5.9" fill="#231f20" stroke="#231f20" stroke-width="0.1" text-anchor="middle" >18%</text>
<line x1="202.60" y1="230.8" x2="202.60" y2="233.10000000000002" stroke="#231f20" stroke-width="0.75"/>
<text transform="translate(205.40,239.00) rotate(-45)" font-size="6.0" fill="#231f20" stroke="#231f20" stroke-width="0.1" text-anchor="end" >Hispanic</text>
<text x="217.10" y="227.20" font-size="5.9" fill="#231f20" stroke="#231f20" stroke-width="0.1" text-anchor="middle" >0</text>
<line x1="217.10" y1="230.8" x2="217.10" y2="233.10000000000002" stroke="#231f20" stroke-width="0.75"/>
<text transform="translate(219.90,239.00) rotate(-45)" font-size="6.0" fill="#231f20" stroke="#231f20" stroke-width="0.1" text-anchor="end" >Black</text>
<text x="202.90" y="161.90" font-size="6.0" fill="#231f20" stroke="#231f20" stroke-width="0.1" text-anchor="middle" ><tspan font-style="italic">P</tspan> = .05</text>
<text x="202.80" y="137.20" font-size="7.9" fill="#231f20" stroke="#231f20" stroke-width="0.1" text-anchor="middle" ><tspan font-style="italic">CRLF2</tspan>-</text>
<text x="202.80" y="146.90" font-size="7.9" fill="#231f20" stroke="#231f20" stroke-width="0.1" text-anchor="middle" >rearranged</text>
<line x1="251.70000000000002" y1="154.8" x2="251.70000000000002" y2="231.3" stroke="#231f20" stroke-width="1.1"/>
<line x1="249.70000000000002" y1="230.8" x2="297.20000000000005" y2="230.8" stroke="#231f20" stroke-width="1.0"/>
<line x1="248.9" y1="230.80" x2="251.70000000000002" y2="230.80" stroke="#231f20" stroke-width="0.8"/>
<text x="245.70" y="233.00" font-size="6.2" fill="#231f20" stroke="#231f20" stroke-width="0.1" text-anchor="end" >0</text>
<line x1="248.9" y1="212.45" x2="251.70000000000002" y2="212.45" stroke="#231f20" stroke-width="0.8"/>
<text x="245.70" y="214.65" font-size="6.2" fill="#231f20" stroke="#231f20" stroke-width="0.1" text-anchor="end" >20</text>
<line x1="248.9" y1="194.10" x2="251.70000000000002" y2="194.10" stroke="#231f20" stroke-width="0.8"/>
<text x="245.70" y="196.30" font-size="6.2" fill="#231f20" stroke="#231f20" stroke-width="0.1" text-anchor="end" >40</text>
<line x1="248.9" y1="175.75" x2="251.70000000000002" y2="175.75" stroke="#231f20" stroke-width="0.8"/>
<text x="245.70" y="177.95" font-size="6.2" fill="#231f20" stroke="#231f20" stroke-width="0.1" text-anchor="end" >60</text>
<line x1="248.9" y1="157.40" x2="251.70000000000002" y2="157.40" stroke="#231f20" stroke-width="0.8"/>
<text x="245.70" y="159.60" font-size="6.2" fill="#231f20" stroke="#231f20" stroke-width="0.1" text-anchor="end" >80</text>
<rect x="254.50" y="219.96" width="11" height="10.84" fill="#cf1030"/>
<text x="260.00" y="216.36" font-size="5.9" fill="#231f20" stroke="#231f20" stroke-width="0.1" text-anchor="middle" >12%</text>
<line x1="260.00" y1="230.8" x2="260.00" y2="233.10000000000002" stroke="#231f20" stroke-width="0.75"/>
<text transform="translate(262.80,239.00) rotate(-45)" font-size="6.0" fill="#231f20" stroke="#231f20" stroke-width="0.1" text-anchor="end" >White</text>
<rect x="269.00" y="224.54" width="11" height="6.26" fill="#33ae33"/>
<text x="274.50" y="220.94" font-size="5.9" fill="#231f20" stroke="#231f20" stroke-width="0.1" text-anchor="middle" >7%</text>
<line x1="274.50" y1="230.8" x2="274.50" y2="233.10000000000002" stroke="#231f20" stroke-width="0.75"/>
<text transform="translate(277.30,239.00) rotate(-45)" font-size="6.0" fill="#231f20" stroke="#231f20" stroke-width="0.1" text-anchor="end" >Hispanic</text>
<rect x="283.50" y="226.63" width="11" height="4.17" fill="#1d4f8c"/>
<text x="289.00" y="223.03" font-size="5.9" fill="#231f20" stroke="#231f20" stroke-width="0.1" text-anchor="middle" >5%</text>
<line x1="289.00" y1="230.8" x2="289.00" y2="233.10000000000002" stroke="#231f20" stroke-width="0.75"/>
<text transform="translate(291.80,239.00) rotate(-45)" font-size="6.0" fill="#231f20" stroke="#231f20" stroke-width="0.1" text-anchor="end" >Black</text>
<text x="274.80" y="161.90" font-size="6.0" fill="#231f20" stroke="#231f20" stroke-width="0.1" text-anchor="middle" ><tspan font-style="italic">P</tspan> = .41</text>
<text x="274.70" y="137.20" font-size="7.9" fill="#231f20" stroke="#231f20" stroke-width="0.1" text-anchor="middle" >Low</text>
<text x="274.70" y="146.90" font-size="7.9" fill="#231f20" stroke="#231f20" stroke-width="0.1" text-anchor="middle" >hypodiploid</text>
<line x1="323.6" y1="154.8" x2="323.6" y2="231.3" stroke="#231f20" stroke-width="1.1"/>
<line x1="321.6" y1="230.8" x2="369.1" y2="230.8" stroke="#231f20" stroke-width="1.0"/>
<line x1="320.8" y1="230.80" x2="323.6" y2="230.80" stroke="#231f20" stroke-width="0.8"/>
<text x="317.60" y="233.00" font-size="6.2" fill="#231f20" stroke="#231f20" stroke-width="0.1" text-anchor="end" >0</text>
<line x1="320.8" y1="212.45" x2="323.6" y2="212.45" stroke="#231f20" stroke-width="0.8"/>
<text x="317.60" y="214.65" font-size="6.2" fill="#231f20" stroke="#231f20" stroke-width="0.1" text-anchor="end" >20</text>
<line x1="320.8" y1="194.10" x2="323.6" y2="194.10" stroke="#231f20" stroke-width="0.8"/>
<text x="317.60" y="196.30" font-size="6.2" fill="#231f20" stroke="#231f20" stroke-width="0.1" text-anchor="end" >40</text>
<line x1="320.8" y1="175.75" x2="323.6" y2="175.75" stroke="#231f20" stroke-width="0.8"/>
<text x="317.60" y="177.95" font-size="6.2" fill="#231f20" stroke="#231f20" stroke-width="0.1" text-anchor="end" >60</text>
<line x1="320.8" y1="157.40" x2="323.6" y2="157.40" stroke="#231f20" stroke-width="0.8"/>
<text x="317.60" y="159.60" font-size="6.2" fill="#231f20" stroke="#231f20" stroke-width="0.1" text-anchor="end" >80</text>
<rect x="326.40" y="223.29" width="11" height="7.51" fill="#cf1030"/>
<text x="331.90" y="219.69" font-size="5.9" fill="#231f20" stroke="#231f20" stroke-width="0.1" text-anchor="middle" >8%</text>
<line x1="331.90" y1="230.8" x2="331.90" y2="233.10000000000002" stroke="#231f20" stroke-width="0.75"/>
<text transform="translate(334.70,239.00) rotate(-45)" font-size="6.0" fill="#231f20" stroke="#231f20" stroke-width="0.1" text-anchor="end" >White</text>
<rect x="340.90" y="226.63" width="11" height="4.17" fill="#33ae33"/>
<text x="346.40" y="223.03" font-size="5.9" fill="#231f20" stroke="#231f20" stroke-width="0.1" text-anchor="middle" >4%</text>
<line x1="346.40" y1="230.8" x2="346.40" y2="233.10000000000002" stroke="#231f20" stroke-width="0.75"/>
<text transform="translate(349.20,239.00) rotate(-45)" font-size="6.0" fill="#231f20" stroke="#231f20" stroke-width="0.1" text-anchor="end" >Hispanic</text>
<rect x="355.40" y="222.46" width="11" height="8.34" fill="#1d4f8c"/>
<text x="360.90" y="218.86" font-size="5.9" fill="#231f20" stroke="#231f20" stroke-width="0.1" text-anchor="middle" >9%</text>
<line x1="360.90" y1="230.8" x2="360.90" y2="233.10000000000002" stroke="#231f20" stroke-width="0.75"/>
<text transform="translate(363.70,239.00) rotate(-45)" font-size="6.0" fill="#231f20" stroke="#231f20" stroke-width="0.1" text-anchor="end" >Black</text>
<text x="346.70" y="161.90" font-size="6.0" fill="#231f20" stroke="#231f20" stroke-width="0.1" text-anchor="middle" ><tspan font-style="italic">P</tspan> = .69</text>
<text x="346.60" y="142.30" font-size="7.9" fill="#231f20" stroke="#231f20" stroke-width="0.1" text-anchor="middle" ><tspan font-style="italic">KMT2A</tspan>-r</text>
<line x1="395.5" y1="154.8" x2="395.5" y2="231.3" stroke="#231f20" stroke-width="1.1"/>
<line x1="393.5" y1="230.8" x2="441.0" y2="230.8" stroke="#231f20" stroke-width="1.0"/>
<line x1="392.7" y1="230.80" x2="395.5" y2="230.80" stroke="#231f20" stroke-width="0.8"/>
<text x="389.50" y="233.00" font-size="6.2" fill="#231f20" stroke="#231f20" stroke-width="0.1" text-anchor="end" >0</text>
<line x1="392.7" y1="212.45" x2="395.5" y2="212.45" stroke="#231f20" stroke-width="0.8"/>
<text x="389.50" y="214.65" font-size="6.2" fill="#231f20" stroke="#231f20" stroke-width="0.1" text-anchor="end" >20</text>
<line x1="392.7" y1="194.10" x2="395.5" y2="194.10" stroke="#231f20" stroke-width="0.8"/>
<text x="389.50" y="196.30" font-size="6.2" fill="#231f20" stroke="#231f20" stroke-width="0.1" text-anchor="end" >40</text>
<line x1="392.7" y1="175.75" x2="395.5" y2="175.75" stroke="#231f20" stroke-width="0.8"/>
<text x="389.50" y="177.95" font-size="6.2" fill="#231f20" stroke="#231f20" stroke-width="0.1" text-anchor="end" >60</text>
<line x1="392.7" y1="157.40" x2="395.5" y2="157.40" stroke="#231f20" stroke-width="0.8"/>
<text x="389.50" y="159.60" font-size="6.2" fill="#231f20" stroke="#231f20" stroke-width="0.1" text-anchor="end" >80</text>
<rect x="398.30" y="225.80" width="11" height="5.00" fill="#cf1030"/>
<text x="403.80" y="222.20" font-size="5.9" fill="#231f20" stroke="#231f20" stroke-width="0.1" text-anchor="middle" >5%</text>
<line x1="403.80" y1="230.8" x2="403.80" y2="233.10000000000002" stroke="#231f20" stroke-width="0.75"/>
<text transform="translate(406.60,239.00) rotate(-45)" font-size="6.0" fill="#231f20" stroke="#231f20" stroke-width="0.1" text-anchor="end" >White</text>
<rect x="412.80" y="228.71" width="11" height="2.09" fill="#33ae33"/>
<text x="418.30" y="225.11" font-size="5.9" fill="#231f20" stroke="#231f20" stroke-width="0.1" text-anchor="middle" >2%</text>
<line x1="418.30" y1="230.8" x2="418.30" y2="233.10000000000002" stroke="#231f20" stroke-width="0.75"/>
<text transform="translate(421.10,239.00) rotate(-45)" font-size="6.0" fill="#231f20" stroke="#231f20" stroke-width="0.1" text-anchor="end" >Hispanic</text>
<text x="432.80" y="227.20" font-size="5.9" fill="#231f20" stroke="#231f20" stroke-width="0.1" text-anchor="middle" >0</text>
<line x1="432.80" y1="230.8" x2="432.80" y2="233.10000000000002" stroke="#231f20" stroke-width="0.75"/>
<text transform="translate(435.60,239.00) rotate(-45)" font-size="6.0" fill="#231f20" stroke="#231f20" stroke-width="0.1" text-anchor="end" >Black</text>
<text x="418.60" y="161.90" font-size="6.0" fill="#231f20" stroke="#231f20" stroke-width="0.1" text-anchor="middle" ><tspan font-style="italic">P</tspan> = .21</text>
<text x="418.50" y="137.20" font-size="7.9" fill="#231f20" stroke="#231f20" stroke-width="0.1" text-anchor="middle" >High</text>
<text x="418.50" y="146.90" font-size="7.9" fill="#231f20" stroke="#231f20" stroke-width="0.1" text-anchor="middle" >hyperdiploidy</text>
<line x1="467.40000000000003" y1="154.8" x2="467.40000000000003" y2="231.3" stroke="#231f20" stroke-width="1.1"/>
<line x1="465.40000000000003" y1="230.8" x2="512.9000000000001" y2="230.8" stroke="#231f20" stroke-width="1.0"/>
<line x1="464.6" y1="230.80" x2="467.40000000000003" y2="230.80" stroke="#231f20" stroke-width="0.8"/>
<text x="461.40" y="233.00" font-size="6.2" fill="#231f20" stroke="#231f20" stroke-width="0.1" text-anchor="end" >0</text>
<line x1="464.6" y1="212.45" x2="467.40000000000003" y2="212.45" stroke="#231f20" stroke-width="0.8"/>
<text x="461.40" y="214.65" font-size="6.2" fill="#231f20" stroke="#231f20" stroke-width="0.1" text-anchor="end" >20</text>
<line x1="464.6" y1="194.10" x2="467.40000000000003" y2="194.10" stroke="#231f20" stroke-width="0.8"/>
<text x="461.40" y="196.30" font-size="6.2" fill="#231f20" stroke="#231f20" stroke-width="0.1" text-anchor="end" >40</text>
<line x1="464.6" y1="175.75" x2="467.40000000000003" y2="175.75" stroke="#231f20" stroke-width="0.8"/>
<text x="461.40" y="177.95" font-size="6.2" fill="#231f20" stroke="#231f20" stroke-width="0.1" text-anchor="end" >60</text>
<line x1="464.6" y1="157.40" x2="467.40000000000003" y2="157.40" stroke="#231f20" stroke-width="0.8"/>
<text x="461.40" y="159.60" font-size="6.2" fill="#231f20" stroke="#231f20" stroke-width="0.1" text-anchor="end" >80</text>
<rect x="470.20" y="204.94" width="11" height="25.86" fill="#cf1030"/>
<text x="475.70" y="201.34" font-size="5.9" fill="#231f20" stroke="#231f20" stroke-width="0.1" text-anchor="middle" >28%</text>
<line x1="475.70" y1="230.8" x2="475.70" y2="233.10000000000002" stroke="#231f20" stroke-width="0.75"/>
<text transform="translate(478.50,239.00) rotate(-45)" font-size="6.0" fill="#231f20" stroke="#231f20" stroke-width="0.1" text-anchor="end" >White</text>
<rect x="484.70" y="201.61" width="11" height="29.19" fill="#33ae33"/>
<text x="490.20" y="198.01" font-size="5.9" fill="#231f20" stroke="#231f20" stroke-width="0.1" text-anchor="middle" >32%</text>
<line x1="490.20" y1="230.8" x2="490.20" y2="233.10000000000002" stroke="#231f20" stroke-width="0.75"/>
<text transform="translate(493.00,239.00) rotate(-45)" font-size="6.0" fill="#231f20" stroke="#231f20" stroke-width="0.1" text-anchor="end" >Hispanic</text>
<rect x="499.20" y="214.12" width="11" height="16.68" fill="#1d4f8c"/>
<text x="504.70" y="210.52" font-size="5.9" fill="#231f20" stroke="#231f20" stroke-width="0.1" text-anchor="middle" >18%</text>
<line x1="504.70" y1="230.8" x2="504.70" y2="233.10000000000002" stroke="#231f20" stroke-width="0.75"/>
<text transform="translate(507.50,239.00) rotate(-45)" font-size="6.0" fill="#231f20" stroke="#231f20" stroke-width="0.1" text-anchor="end" >Black</text>
<text x="490.50" y="161.90" font-size="6.0" fill="#231f20" stroke="#231f20" stroke-width="0.1" text-anchor="middle" ><tspan font-style="italic">P</tspan> = .50</text>
<text x="490.40" y="142.30" font-size="7.9" fill="#231f20" stroke="#231f20" stroke-width="0.1" text-anchor="middle" >B-other</text>
<text transform="translate(16.90,192.00) rotate(-90)" font-size="5.75" fill="#231f20" stroke="#231f20" stroke-width="0.22" text-anchor="middle" >Percentage of patients (%)</text>
<line x1="41.5" y1="308.0" x2="41.5" y2="384.7" stroke="#231f20" stroke-width="1.1"/>
<line x1="39.0" y1="384.2" x2="96.3" y2="384.2" stroke="#231f20" stroke-width="1.0"/>
<line x1="38.7" y1="384.20" x2="41.5" y2="384.20" stroke="#231f20" stroke-width="0.8"/>
<text x="35.70" y="386.40" font-size="6.2" fill="#231f20" stroke="#231f20" stroke-width="0.1" text-anchor="end" >0</text>
<line x1="38.7" y1="365.80" x2="41.5" y2="365.80" stroke="#231f20" stroke-width="0.8"/>
<text x="35.70" y="368.00" font-size="6.2" fill="#231f20" stroke="#231f20" stroke-width="0.1" text-anchor="end" >20</text>
<line x1="38.7" y1="347.40" x2="41.5" y2="347.40" stroke="#231f20" stroke-width="0.8"/>
<text x="35.70" y="349.60" font-size="6.2" fill="#231f20" stroke="#231f20" stroke-width="0.1" text-anchor="end" >40</text>
<line x1="38.7" y1="329.00" x2="41.5" y2="329.00" stroke="#231f20" stroke-width="0.8"/>
<text x="35.70" y="331.20" font-size="6.2" fill="#231f20" stroke="#231f20" stroke-width="0.1" text-anchor="end" >60</text>
<line x1="38.7" y1="310.60" x2="41.5" y2="310.60" stroke="#231f20" stroke-width="0.8"/>
<text x="35.70" y="312.80" font-size="6.2" fill="#231f20" stroke="#231f20" stroke-width="0.1" text-anchor="end" >80</text>
<text x="68.50" y="294.50" font-size="7.65" fill="#231f20" stroke="#231f20" stroke-width="0.1" text-anchor="middle" >BMI and race</text>
<text x="68.00" y="313.30" font-size="6.0" fill="#231f20" stroke="#231f20" stroke-width="0.1" text-anchor="middle" ><tspan font-style="italic">P</tspan> = .17</text>
<text transform="translate(23.00,346.40) rotate(-90)" font-size="6.9" fill="#231f20" stroke="#231f20" stroke-width="0.3" text-anchor="middle" textLength="41.5" lengthAdjust="spacingAndGlyphs">Body mass index</text>
<polygon points="51.40,323.80 51.50,330.00 51.70,338.00 52.00,342.00 52.60,345.00 53.30,347.50 54.30,350.20 55.40,352.70 56.60,355.30 57.80,358.00 58.40,360.40 57.50,362.50 55.60,365.50 53.70,368.00 51.50,370.60 51.10,370.60 48.90,368.00 47.00,365.50 45.10,362.50 44.20,360.40 44.80,358.00 46.00,355.30 47.20,352.70 48.30,350.20 49.30,347.50 50.00,345.00 50.60,342.00 50.90,338.00 51.10,330.00 51.20,323.80" fill="#f7cdd3" stroke="#cc1f40" stroke-width="0.95" stroke-linejoin="round"/>
<line x1="49.10" y1="355.30" x2="53.50" y2="355.30" stroke="#cc1f40" stroke-width="0.75" stroke-dasharray="1.2,0.9"/>
<line x1="46.40" y1="359.90" x2="56.20" y2="359.90" stroke="#cc1f40" stroke-width="0.75" stroke-dasharray="1.2,0.9"/>
<line x1="47.80" y1="362.90" x2="54.80" y2="362.90" stroke="#cc1f40" stroke-width="0.75" stroke-dasharray="1.2,0.9"/>
<polygon points="69.00,335.30 68.90,340.00 69.00,343.00 69.40,345.00 70.30,347.50 71.50,350.20 72.60,352.80 73.60,355.30 74.70,358.00 75.10,360.40 74.10,363.40 72.50,365.20 71.00,366.00 65.40,366.00 63.90,365.20 62.30,363.40 61.30,360.40 61.70,358.00 62.80,355.30 63.80,352.80 64.90,350.20 66.10,347.50 67.00,345.00 67.40,343.00 67.50,340.00 67.40,335.30" fill="#d9efc8" stroke="#55ad45" stroke-width="0.95" stroke-linejoin="round"/>
<line x1="66.00" y1="353.80" x2="70.40" y2="353.80" stroke="#55ad45" stroke-width="0.75" stroke-dasharray="1.2,0.9"/>
<line x1="63.50" y1="358.90" x2="72.90" y2="358.90" stroke="#55ad45" stroke-width="0.75" stroke-dasharray="1.2,0.9"/>
<line x1="64.40" y1="361.90" x2="72.00" y2="361.90" stroke="#55ad45" stroke-width="0.75" stroke-dasharray="1.2,0.9"/>
<polygon points="87.10,334.00 86.70,337.00 86.20,341.00 86.30,344.50 87.10,346.50 88.10,348.50 88.90,350.20 90.50,353.30 91.80,356.50 92.30,359.40 91.60,363.40 90.20,365.80 89.60,367.30 80.80,367.30 80.20,365.80 78.80,363.40 78.10,359.40 78.60,356.50 79.90,353.30 81.50,350.20 82.30,348.50 83.30,346.50 84.10,344.50 84.20,341.00 83.70,337.00 83.30,334.00" fill="#cbd6ee" stroke="#4f70ab" stroke-width="0.95" stroke-linejoin="round"/>
<line x1="81.60" y1="353.50" x2="88.80" y2="353.50" stroke="#4f70ab" stroke-width="0.75" stroke-dasharray="1.2,0.9"/>
<line x1="79.60" y1="357.30" x2="90.80" y2="357.30" stroke="#4f70ab" stroke-width="0.75" stroke-dasharray="1.2,0.9"/>
<line x1="80.60" y1="363.20" x2="89.80" y2="363.20" stroke="#4f70ab" stroke-width="0.75" stroke-dasharray="1.2,0.9"/>
<line x1="51.3" y1="384.2" x2="51.3" y2="386.4" stroke="#231f20" stroke-width="0.7"/>
<text transform="translate(54.10,393.00) rotate(-45)" font-size="6.0" fill="#231f20" stroke="#231f20" stroke-width="0.1" text-anchor="end" >White</text>
<line x1="68.4" y1="384.2" x2="68.4" y2="386.4" stroke="#231f20" stroke-width="0.7"/>
<text transform="translate(71.20,393.00) rotate(-45)" font-size="6.0" fill="#231f20" stroke="#231f20" stroke-width="0.1" text-anchor="end" >Hispanic</text>
<line x1="85.3" y1="384.2" x2="85.3" y2="386.4" stroke="#231f20" stroke-width="0.7"/>
<text transform="translate(88.10,393.00) rotate(-45)" font-size="6.0" fill="#231f20" stroke="#231f20" stroke-width="0.1" text-anchor="end" >Black</text>
<line x1="180.2" y1="307.4" x2="180.2" y2="384.4" stroke="#231f20" stroke-width="0.9"/>
<line x1="179.79999999999998" y1="384.0" x2="255" y2="384.0" stroke="#231f20" stroke-width="0.9"/>
<line x1="223.2" y1="307.4" x2="223.2" y2="384.0" stroke="#777" stroke-width="0.45"/>
<line x1="179.70" y1="384.0" x2="179.70" y2="386.4" stroke="#231f20" stroke-width="0.75"/>
<line x1="184.06" y1="384.0" x2="184.06" y2="386.1" stroke="#231f20" stroke-width="0.75"/>
<line x1="186.62" y1="384.0" x2="186.62" y2="386.1" stroke="#231f20" stroke-width="0.75"/>
<line x1="188.43" y1="384.0" x2="188.43" y2="386.1" stroke="#231f20" stroke-width="0.75"/>
<line x1="189.84" y1="384.0" x2="189.84" y2="386.1" stroke="#231f20" stroke-width="0.75"/>
<line x1="190.98" y1="384.0" x2="190.98" y2="386.1" stroke="#231f20" stroke-width="0.75"/>
<line x1="191.95" y1="384.0" x2="191.95" y2="386.1" stroke="#231f20" stroke-width="0.75"/>
<line x1="192.79" y1="384.0" x2="192.79" y2="386.1" stroke="#231f20" stroke-width="0.75"/>
<line x1="193.54" y1="384.0" x2="193.54" y2="386.1" stroke="#231f20" stroke-width="0.75"/>
<line x1="194.20" y1="384.0" x2="194.20" y2="386.4" stroke="#231f20" stroke-width="0.75"/>
<line x1="198.56" y1="384.0" x2="198.56" y2="386.1" stroke="#231f20" stroke-width="0.75"/>
<line x1="201.12" y1="384.0" x2="201.12" y2="386.1" stroke="#231f20" stroke-width="0.75"/>
<line x1="202.93" y1="384.0" x2="202.93" y2="386.1" stroke="#231f20" stroke-width="0.75"/>
<line x1="204.34" y1="384.0" x2="204.34" y2="386.1" stroke="#231f20" stroke-width="0.75"/>
<line x1="205.48" y1="384.0" x2="205.48" y2="386.1" stroke="#231f20" stroke-width="0.75"/>
<line x1="206.45" y1="384.0" x2="206.45" y2="386.1" stroke="#231f20" stroke-width="0.75"/>
<line x1="207.29" y1="384.0" x2="207.29" y2="386.1" stroke="#231f20" stroke-width="0.75"/>
<line x1="208.04" y1="384.0" x2="208.04" y2="386.1" stroke="#231f20" stroke-width="0.75"/>
<line x1="208.70" y1="384.0" x2="208.70" y2="386.4" stroke="#231f20" stroke-width="0.75"/>
<line x1="213.06" y1="384.0" x2="213.06" y2="386.1" stroke="#231f20" stroke-width="0.75"/>
<line x1="215.62" y1="384.0" x2="215.62" y2="386.1" stroke="#231f20" stroke-width="0.75"/>
<line x1="217.43" y1="384.0" x2="217.43" y2="386.1" stroke="#231f20" stroke-width="0.75"/>
<line x1="218.84" y1="384.0" x2="218.84" y2="386.1" stroke="#231f20" stroke-width="0.75"/>
<line x1="219.98" y1="384.0" x2="219.98" y2="386.1" stroke="#231f20" stroke-width="0.75"/>
<line x1="220.95" y1="384.0" x2="220.95" y2="386.1" stroke="#231f20" stroke-width="0.75"/>
<line x1="221.79" y1="384.0" x2="221.79" y2="386.1" stroke="#231f20" stroke-width="0.75"/>
<line x1="222.54" y1="384.0" x2="222.54" y2="386.1" stroke="#231f20" stroke-width="0.75"/>
<line x1="223.20" y1="384.0" x2="223.20" y2="386.4" stroke="#231f20" stroke-width="0.75"/>
<line x1="227.56" y1="384.0" x2="227.56" y2="386.1" stroke="#231f20" stroke-width="0.75"/>
<line x1="230.12" y1="384.0" x2="230.12" y2="386.1" stroke="#231f20" stroke-width="0.75"/>
<line x1="231.93" y1="384.0" x2="231.93" y2="386.1" stroke="#231f20" stroke-width="0.75"/>
<line x1="233.34" y1="384.0" x2="233.34" y2="386.1" stroke="#231f20" stroke-width="0.75"/>
<line x1="234.48" y1="384.0" x2="234.48" y2="386.1" stroke="#231f20" stroke-width="0.75"/>
<line x1="235.45" y1="384.0" x2="235.45" y2="386.1" stroke="#231f20" stroke-width="0.75"/>
<line x1="236.29" y1="384.0" x2="236.29" y2="386.1" stroke="#231f20" stroke-width="0.75"/>
<line x1="237.04" y1="384.0" x2="237.04" y2="386.1" stroke="#231f20" stroke-width="0.75"/>
<line x1="237.70" y1="384.0" x2="237.70" y2="386.4" stroke="#231f20" stroke-width="0.75"/>
<line x1="242.06" y1="384.0" x2="242.06" y2="386.1" stroke="#231f20" stroke-width="0.75"/>
<line x1="244.62" y1="384.0" x2="244.62" y2="386.1" stroke="#231f20" stroke-width="0.75"/>
<line x1="246.43" y1="384.0" x2="246.43" y2="386.1" stroke="#231f20" stroke-width="0.75"/>
<line x1="247.84" y1="384.0" x2="247.84" y2="386.1" stroke="#231f20" stroke-width="0.75"/>
<line x1="248.98" y1="384.0" x2="248.98" y2="386.1" stroke="#231f20" stroke-width="0.75"/>
<line x1="249.95" y1="384.0" x2="249.95" y2="386.1" stroke="#231f20" stroke-width="0.75"/>
<line x1="250.79" y1="384.0" x2="250.79" y2="386.1" stroke="#231f20" stroke-width="0.75"/>
<line x1="251.54" y1="384.0" x2="251.54" y2="386.1" stroke="#231f20" stroke-width="0.75"/>
<line x1="252.20" y1="384.0" x2="252.20" y2="386.4" stroke="#231f20" stroke-width="0.75"/>
<text transform="translate(182.80,391.90) rotate(-45)" font-size="6.4" fill="#231f20" stroke="#231f20" stroke-width="0.1" text-anchor="end" >0.001</text>
<text transform="translate(197.30,391.90) rotate(-45)" font-size="6.4" fill="#231f20" stroke="#231f20" stroke-width="0.1" text-anchor="end" >0.01</text>
<text transform="translate(211.80,391.90) rotate(-45)" font-size="6.4" fill="#231f20" stroke="#231f20" stroke-width="0.1" text-anchor="end" >0.1</text>
<text transform="translate(226.30,391.90) rotate(-45)" font-size="6.4" fill="#231f20" stroke="#231f20" stroke-width="0.1" text-anchor="end" >1</text>
<text transform="translate(240.80,391.90) rotate(-45)" font-size="6.4" fill="#231f20" stroke="#231f20" stroke-width="0.1" text-anchor="end" >10</text>
<text transform="translate(255.30,391.90) rotate(-45)" font-size="6.4" fill="#231f20" stroke="#231f20" stroke-width="0.1" text-anchor="end" >100</text>
<text x="217.5" y="414.2" font-size="7.6" font-weight="bold" fill="#231f20" text-anchor="middle" textLength="49.3" lengthAdjust="spacingAndGlyphs">Odds-ratio (95% CI)</text>
<text x="217.40" y="290.40" font-size="7.45" fill="#231f20" stroke="#231f20" stroke-width="0.1" text-anchor="middle" >B-ALL</text>
<text x="217.50" y="299.00" font-size="7.6" fill="#231f20" stroke="#231f20" stroke-width="0.1" text-anchor="middle" >Body mass index</text>
<line x1="177.7" y1="316.00" x2="180.2" y2="316.00" stroke="#231f20" stroke-width="0.7"/>
<text x="174.80" y="318.20" font-size="6.1" fill="#231f20" stroke="#231f20" stroke-width="0.1" text-anchor="end" ><tspan font-style="italic">BCR::ABL1</tspan></text>
<line x1="224.19" y1="316.00" x2="247.82" y2="316.00" stroke="#3a5f8a" stroke-width="1.05"/>
<line x1="224.19" y1="314.70" x2="224.19" y2="317.30" stroke="#3a5f8a" stroke-width="0.7"/>
<line x1="247.82" y1="314.70" x2="247.82" y2="317.30" stroke="#3a5f8a" stroke-width="0.7"/>
<circle cx="236.00" cy="316.00" r="1.1" fill="#3a5f8a"/>
<text x="290.30" y="317.80" font-size="5.95" fill="#231f20" stroke="#231f20" stroke-width="0.1" text-anchor="middle" >7.64 (1.17 – 49.9)</text>
<text x="337.00" y="317.80" font-size="5.9" fill="#231f20" stroke="#231f20" stroke-width="0.1" text-anchor="middle" >.03</text>
<line x1="177.7" y1="328.05" x2="180.2" y2="328.05" stroke="#231f20" stroke-width="0.7"/>
<text x="174.80" y="330.25" font-size="6.1" fill="#231f20" stroke="#231f20" stroke-width="0.1" text-anchor="end" >Ph-like</text>
<line x1="208.70" y1="328.05" x2="239.50" y2="328.05" stroke="#b02350" stroke-width="1.05"/>
<line x1="208.70" y1="326.75" x2="208.70" y2="329.35" stroke="#b02350" stroke-width="0.7"/>
<line x1="239.50" y1="326.75" x2="239.50" y2="329.35" stroke="#b02350" stroke-width="0.7"/>
<circle cx="224.24" cy="328.05" r="1.1" fill="#b02350"/>
<text x="290.30" y="329.85" font-size="5.95" fill="#231f20" stroke="#231f20" stroke-width="0.1" text-anchor="middle" >1.18 (0.1 – 13.3)</text>
<text x="337.00" y="329.85" font-size="5.9" fill="#231f20" stroke="#231f20" stroke-width="0.1" text-anchor="middle" >.89</text>
<line x1="177.7" y1="340.10" x2="180.2" y2="340.10" stroke="#231f20" stroke-width="0.7"/>
<text x="174.80" y="342.30" font-size="6.1" fill="#231f20" stroke="#231f20" stroke-width="0.1" text-anchor="end" >Low hypodiploidy</text>
<line x1="207.29" y1="340.10" x2="243.64" y2="340.10" stroke="#b02350" stroke-width="1.05"/>
<line x1="207.29" y1="338.80" x2="207.29" y2="341.40" stroke="#b02350" stroke-width="0.7"/>
<line x1="243.64" y1="338.80" x2="243.64" y2="341.40" stroke="#b02350" stroke-width="0.7"/>
<circle cx="225.54" cy="340.10" r="1.1" fill="#b02350"/>
<text x="290.30" y="341.90" font-size="5.95" fill="#231f20" stroke="#231f20" stroke-width="0.1" text-anchor="middle" >1.45 (0.08 – 25.7)</text>
<text x="337.00" y="341.90" font-size="5.9" fill="#231f20" stroke="#231f20" stroke-width="0.1" text-anchor="middle" >.79</text>
<line x1="177.7" y1="352.15" x2="180.2" y2="352.15" stroke="#231f20" stroke-width="0.7"/>
<text x="174.80" y="354.35" font-size="6.1" fill="#231f20" stroke="#231f20" stroke-width="0.1" text-anchor="end" ><tspan font-style="italic">KMT2A-r</tspan></text>
<line x1="208.04" y1="352.15" x2="247.56" y2="352.15" stroke="#b02350" stroke-width="1.05"/>
<line x1="208.04" y1="350.85" x2="208.04" y2="353.45" stroke="#b02350" stroke-width="0.7"/>
<line x1="247.56" y1="350.85" x2="247.56" y2="353.45" stroke="#b02350" stroke-width="0.7"/>
<circle cx="227.81" cy="352.15" r="1.1" fill="#b02350"/>
<text x="290.30" y="353.95" font-size="5.95" fill="#231f20" stroke="#231f20" stroke-width="0.1" text-anchor="middle" >2.08 (0.09 – 47.9)</text>
<text x="337.00" y="353.95" font-size="5.9" fill="#231f20" stroke="#231f20" stroke-width="0.1" text-anchor="middle" >.64</text>
<line x1="177.7" y1="364.20" x2="180.2" y2="364.20" stroke="#231f20" stroke-width="0.7"/>
<text x="174.80" y="366.40" font-size="6.1" fill="#231f20" stroke="#231f20" stroke-width="0.1" text-anchor="end" >Hyperdiploidy</text>
<line x1="209.85" y1="364.20" x2="252.01" y2="364.20" stroke="#b02350" stroke-width="1.05"/>
<line x1="209.85" y1="362.90" x2="209.85" y2="365.50" stroke="#b02350" stroke-width="0.7"/>
<line x1="252.01" y1="362.90" x2="252.01" y2="365.50" stroke="#b02350" stroke-width="0.7"/>
<circle cx="231.03" cy="364.20" r="1.1" fill="#b02350"/>
<text x="290.30" y="366.00" font-size="5.95" fill="#231f20" stroke="#231f20" stroke-width="0.1" text-anchor="middle" >3.47 (0.12 – 97)</text>
<text x="337.00" y="366.00" font-size="5.9" fill="#231f20" stroke="#231f20" stroke-width="0.1" text-anchor="middle" >.46</text>
<line x1="177.7" y1="376.25" x2="180.2" y2="376.25" stroke="#231f20" stroke-width="0.7"/>
<text x="174.80" y="378.45" font-size="6.1" fill="#231f20" stroke="#231f20" stroke-width="0.1" text-anchor="end" >B-other</text>
<line x1="188.43" y1="376.25" x2="218.84" y2="376.25" stroke="#f0a43a" stroke-width="1.05"/>
<line x1="188.43" y1="374.95" x2="188.43" y2="377.55" stroke="#f0a43a" stroke-width="0.7"/>
<line x1="218.84" y1="374.95" x2="218.84" y2="377.55" stroke="#f0a43a" stroke-width="0.7"/>
<circle cx="202.93" cy="376.25" r="1.1" fill="#f0a43a"/>
<text x="290.30" y="378.05" font-size="5.95" fill="#231f20" stroke="#231f20" stroke-width="0.1" text-anchor="middle" >0.04 (0.004 – 0.5)</text>
<text x="337.00" y="378.05" font-size="5.9" fill="#231f20" stroke="#231f20" stroke-width="0.1" text-anchor="middle" >.01</text>
<text x="305.60" y="295.00" font-size="7.75" fill="#231f20" stroke="#231f20" stroke-width="0.1" text-anchor="middle" >Association with higher BMI</text>
<text x="290.30" y="306.50" font-size="5.9" fill="#231f20" stroke="#231f20" stroke-width="0.1" text-anchor="middle" >OR (95% CI)</text>
<text x="336.60" y="306.50" font-size="5.6" fill="#231f20" stroke="#231f20" stroke-width="0.1" text-anchor="middle" ><tspan font-style="italic">P</tspan> value</text>
<line x1="415.1" y1="307.6" x2="415.1" y2="384.7" stroke="#231f20" stroke-width="1.1"/>
<line x1="412.6" y1="384.2" x2="469.2" y2="384.2" stroke="#231f20" stroke-width="1.0"/>
<line x1="412.20000000000005" y1="384.20" x2="415.1" y2="384.20" stroke="#231f20" stroke-width="0.8"/>
<text x="409.10" y="386.40" font-size="6.2" fill="#231f20" stroke="#231f20" stroke-width="0.1" text-anchor="end" >0</text>
<line x1="412.20000000000005" y1="369.54" x2="415.1" y2="369.54" stroke="#231f20" stroke-width="0.8"/>
<text x="409.10" y="371.74" font-size="6.2" fill="#231f20" stroke="#231f20" stroke-width="0.1" text-anchor="end" >20</text>
<line x1="412.20000000000005" y1="354.88" x2="415.1" y2="354.88" stroke="#231f20" stroke-width="0.8"/>
<text x="409.10" y="357.08" font-size="6.2" fill="#231f20" stroke="#231f20" stroke-width="0.1" text-anchor="end" >40</text>
<line x1="412.20000000000005" y1="340.22" x2="415.1" y2="340.22" stroke="#231f20" stroke-width="0.8"/>
<text x="409.10" y="342.42" font-size="6.2" fill="#231f20" stroke="#231f20" stroke-width="0.1" text-anchor="end" >60</text>
<line x1="412.20000000000005" y1="325.56" x2="415.1" y2="325.56" stroke="#231f20" stroke-width="0.8"/>
<text x="409.10" y="327.76" font-size="6.2" fill="#231f20" stroke="#231f20" stroke-width="0.1" text-anchor="end" >80</text>
<line x1="412.20000000000005" y1="310.90" x2="415.1" y2="310.90" stroke="#231f20" stroke-width="0.8"/>
<text x="409.10" y="313.10" font-size="6.2" fill="#231f20" stroke="#231f20" stroke-width="0.1" text-anchor="end" >100</text>
<rect x="419.20" y="355.61" width="14.0" height="28.59" fill="#4d1c5e"/>
<rect x="419.20" y="314.56" width="14.0" height="41.05" fill="#e4177e"/>
<rect x="419.20" y="310.90" width="14.0" height="3.67" fill="#9985c2"/>
<line x1="426.20" y1="384.2" x2="426.20" y2="386.4" stroke="#231f20" stroke-width="0.7"/>
<text transform="translate(429.00,392.70) rotate(-45)" font-size="6.0" fill="#231f20" stroke="#231f20" stroke-width="0.1" text-anchor="end" >White</text>
<rect x="435.00" y="368.81" width="14.0" height="15.39" fill="#4d1c5e"/>
<rect x="435.00" y="323.36" width="14.0" height="45.45" fill="#e4177e"/>
<rect x="435.00" y="310.90" width="14.0" height="12.46" fill="#9985c2"/>
<line x1="442.00" y1="384.2" x2="442.00" y2="386.4" stroke="#231f20" stroke-width="0.7"/>
<text transform="translate(444.80,392.70) rotate(-45)" font-size="6.0" fill="#231f20" stroke="#231f20" stroke-width="0.1" text-anchor="end" >Hispanic</text>
<rect x="450.80" y="379.80" width="14.0" height="4.40" fill="#4d1c5e"/>
<rect x="450.80" y="351.21" width="14.0" height="28.59" fill="#e4177e"/>
<rect x="450.80" y="310.90" width="14.0" height="40.32" fill="#9985c2"/>
<line x1="457.80" y1="384.2" x2="457.80" y2="386.4" stroke="#231f20" stroke-width="0.7"/>
<text transform="translate(460.60,392.70) rotate(-45)" font-size="6.0" fill="#231f20" stroke="#231f20" stroke-width="0.1" text-anchor="end" >Black</text>
<text x="426.20" y="315.00" font-size="5.6" fill="#ffffff" stroke="#ffffff" stroke-width="0.1" text-anchor="middle" >5%</text>
<text x="426.20" y="336.80" font-size="5.6" fill="#ffffff" stroke="#ffffff" stroke-width="0.1" text-anchor="middle" >56%</text>
<text x="426.20" y="370.50" font-size="5.6" fill="#ffffff" stroke="#ffffff" stroke-width="0.1" text-anchor="middle" >39%</text>
<text x="442.00" y="318.20" font-size="5.6" fill="#ffffff" stroke="#ffffff" stroke-width="0.1" text-anchor="middle" >17%</text>
<text x="442.00" y="347.40" font-size="5.6" fill="#ffffff" stroke="#ffffff" stroke-width="0.1" text-anchor="middle" >62%</text>
<text x="442.00" y="379.50" font-size="5.6" fill="#ffffff" stroke="#ffffff" stroke-width="0.1" text-anchor="middle" >21%</text>
<text x="457.80" y="334.10" font-size="5.6" fill="#ffffff" stroke="#ffffff" stroke-width="0.1" text-anchor="middle" >55%</text>
<text x="457.80" y="367.10" font-size="5.6" fill="#ffffff" stroke="#ffffff" stroke-width="0.1" text-anchor="middle" >39%</text>
<text x="457.80" y="383.00" font-size="5.6" fill="#ffffff" stroke="#ffffff" stroke-width="0.1" text-anchor="middle" >6%</text>
<text x="442.30" y="295.20" font-size="7.75" fill="#231f20" stroke="#231f20" stroke-width="0.1" text-anchor="middle" >Income and race</text>
<text x="441.20" y="307.50" font-size="6.0" fill="#231f20" stroke="#231f20" stroke-width="0.1" text-anchor="middle" ><tspan font-style="italic">P</tspan> &lt; .001</text>
<text transform="translate(392.90,346.40) rotate(-90)" font-size="5.75" fill="#231f20" stroke="#231f20" stroke-width="0.22" text-anchor="middle" >Percentage of patients (%)</text>
<rect x="472.5" y="333.70" width="5.4" height="5.0" fill="#9985c2"/>
<text x="480.80" y="338.10" font-size="5.8" fill="#231f20" stroke="#231f20" stroke-width="0.1" text-anchor="start" >Low</text>
<rect x="472.5" y="343.30" width="5.4" height="5.0" fill="#e4177e"/>
<text x="480.80" y="347.70" font-size="5.8" fill="#231f20" stroke="#231f20" stroke-width="0.1" text-anchor="start" >Middle</text>
<rect x="472.5" y="352.90" width="5.4" height="5.0" fill="#4d1c5e"/>
<text x="480.80" y="357.30" font-size="5.8" fill="#231f20" stroke="#231f20" stroke-width="0.1" text-anchor="start" >High</text>
<rect x="0.5" y="0.5" width="519" height="422" fill="none" stroke="#5a5a5a" stroke-width="1"/>
</svg>
</body></html>
